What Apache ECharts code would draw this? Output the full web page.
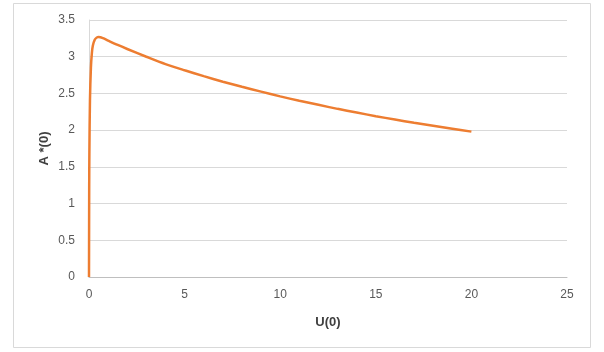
<!DOCTYPE html>
<html>
<head>
<meta charset="utf-8">
<script src="https://cdn.jsdelivr.net/npm/echarts@6/dist/echarts.min.js"></script>
<style>
html,body{margin:0;padding:0;background:#fff;}
#c{width:604px;height:352px;}
</style>
</head>
<body>
<div id="c"></div>
<script>
const uValues = [0, 0.01, 0.02, 0.05, 0.1, 0.15, 0.2, 0.3, 0.4, 0.5, 0.6, 0.8, 1, 1.5, 2, 3, 4, 5, 6, 7, 8, 9, 10, 11, 12, 13, 14, 15, 16, 17, 18, 19, 20];
const aValues = [0, 1.2, 1.7, 2.4, 2.85, 3.05, 3.15, 3.23, 3.26, 3.27, 3.265, 3.245, 3.22, 3.16, 3.105, 3.0, 2.9, 2.815, 2.735, 2.66, 2.59, 2.525, 2.46, 2.40, 2.345, 2.29, 2.24, 2.19, 2.145, 2.10, 2.06, 2.02, 1.98];
const xTitle = 'U(0)';
const yTitle = 'A *(0)';

const chart = echarts.init(document.getElementById('c'), null, {renderer: 'canvas'});
const pts = uValues.map((u, i) => [u, aValues[i]]);
const labelFont = {color: '#595959', fontSize: 12, fontFamily: 'Liberation Sans'};
chart.setOption({
  animation: false,
  backgroundColor: '#fff',
  graphic: [{
    type: 'rect', shape: {x: 13.5, y: 3.5, width: 577, height: 344},
    style: {fill: 'none', stroke: '#d9d9d9', lineWidth: 1}, silent: true, z: -1
  }],
  grid: {left: 89, right: 37, top: 20, bottom: 75},
  xAxis: {
    type: 'value', min: 0, max: 25, interval: 5,
    name: xTitle, nameLocation: 'middle', nameGap: 39,
    nameTextStyle: {color: '#404040', fontSize: 13, fontWeight: 'bold', fontFamily: 'Liberation Sans'},
    axisLine: {show: true, lineStyle: {color: '#bfbfbf', width: 1}},
    axisTick: {show: false},
    splitLine: {show: false},
    axisLabel: Object.assign({margin: 12}, labelFont)
  },
  yAxis: {
    type: 'value', min: 0, max: 3.5, interval: 0.5,
    name: yTitle, nameLocation: 'middle', nameGap: 38, nameRotate: 90, nameMoveOverlap: false,
    nameTextStyle: {color: '#404040', fontSize: 13, fontWeight: 'bold', fontFamily: 'Liberation Sans'},
    axisLine: {show: true, lineStyle: {color: '#d9d9d9', width: 1}},
    axisTick: {show: false},
    splitLine: {show: true, lineStyle: {color: '#d9d9d9', width: 1}},
    axisLabel: Object.assign({margin: 14}, labelFont)
  },
  series: [{
    type: 'line', data: pts, smooth: 0.3, showSymbol: false,
    lineStyle: {color: '#ED7D31', width: 2.5}
  }]
});
</script>
</body>
</html>
